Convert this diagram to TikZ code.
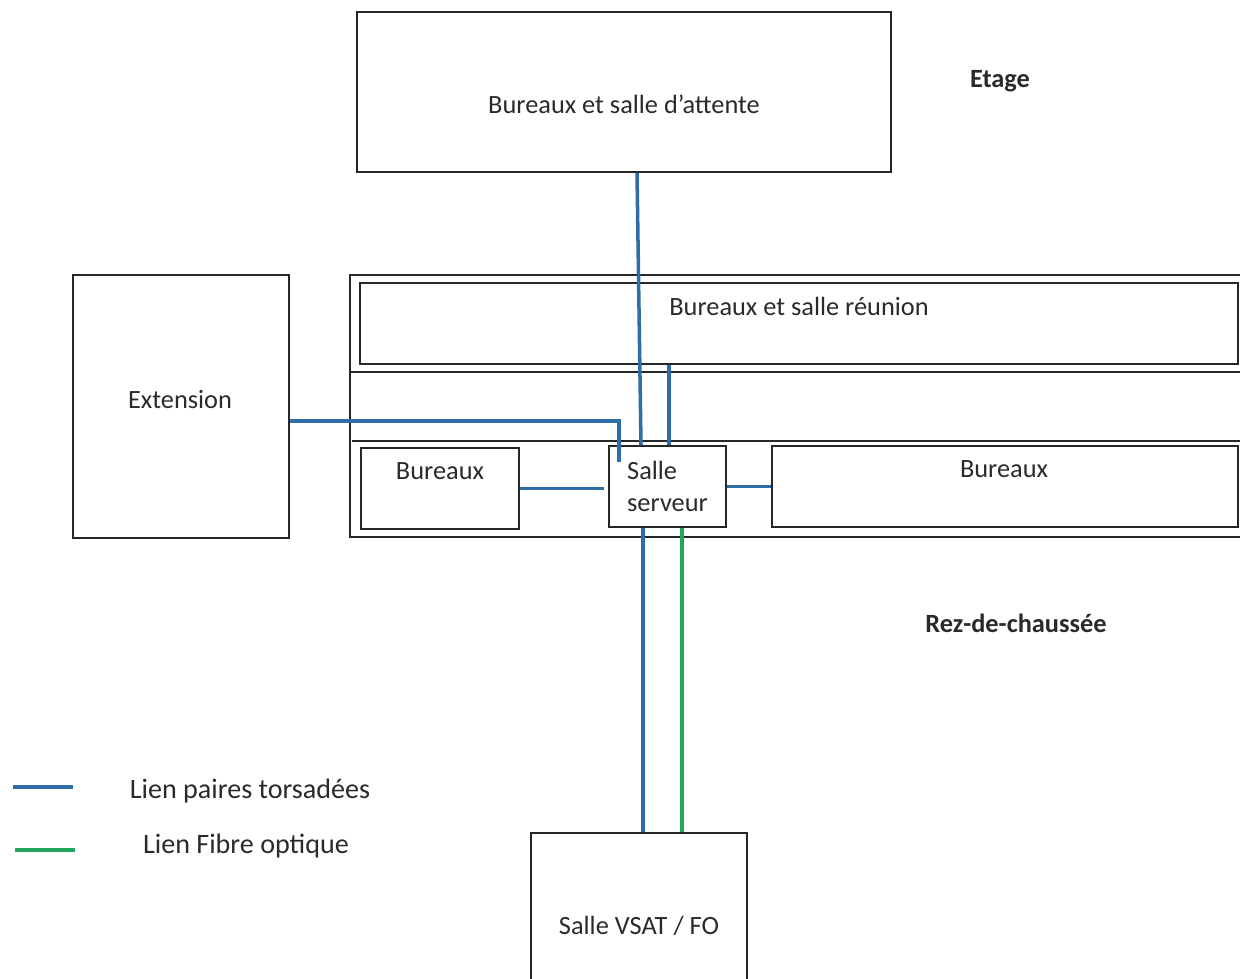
\documentclass[tikz,border=0pt]{standalone}
\usepackage{fontspec}
\setmainfont{Carlito}
\usetikzlibrary{positioning,calc}
\definecolor{torsade}{HTML}{2F6EA5}
\definecolor{fibre}{HTML}{22A65E}
\definecolor{texte}{HTML}{2A2A2A}
\tikzset{
	%Styles des salles et des liens
	salle/.style = {rectangle, draw=black!85, line width=1pt,
                           font=\fontsize{15}{18.7}\selectfont, text=texte,
                           text centered},
	titre/.style = {font=\fontsize{15}{18}\selectfont, text=texte},
	gras/.style = {font=\fontsize{15}{18}\selectfont\bfseries, text=texte},
	tp/.style = {draw=torsade, line width=2pt},
	fo/.style = {draw=fibre, line width=2pt}
}

\begin{document}
\begin{tikzpicture}[x=0.02cm, y=-0.02cm]
		\clip (0,0) rectangle (1240,978);
		% Etage
		\node (att) [salle, minimum width=10.68cm, minimum height=3.2cm] at (624,92) {};
		\node (attt) [titre] at (624,104) {Bureaux et salle d'attente};
		\node (etage) [gras] at (1000,81) {Etage};
		
		% Rez-de-chaussee
		\draw[line width=1.3pt, black!85] (1260,275) -- (350,275) -- (350,537) -- (1260,537);
		\draw[line width=1pt, black!85] (350,372) -- (1260,372);
		\draw[line width=1pt, black!85] (352,441) -- (1260,441);
		\node (reu) [salle, minimum width=17.56cm, minimum height=1.62cm] at (799,323.5) {};
		\node (reut) [titre] at (799,306) {Bureaux et salle réunion};
		\node (bg) [salle, minimum width=3.16cm, minimum height=1.62cm] at (440,488.5) {};
		\node (bgt) [titre] at (440,471) {Bureaux};
		\node (srv) [salle, align=left, minimum width=2.34cm, minimum height=1.62cm] at (667.5,486.5) {Salle\\serveur};
		\node (bd) [salle, minimum width=9.32cm, minimum height=1.62cm] at (1005,486.5) {};
		\node (bdt) [titre] at (1004,469) {Bureaux};
		\node (ext) [salle, minimum width=4.32cm, minimum height=5.26cm] at (181,406.5) {};
		\node (extt) [titre] at (180,400) {Extension};
		\node (rdc) [gras] at (1016,623) {Rez-de-chaussée};
		\node (vsat) [salle, minimum width=4.32cm, minimum height=3.72cm] at (639,926) {Salle VSAT / FO};
		
		\draw[tp] ([xshift=0.26cm]att.south) -- ([xshift=-0.53cm]srv.north);
		\draw[tp] ([xshift=0.03cm]srv.north) -- ([xshift=0.03cm]srv.north |- reu.south);
		\draw[tp] ([yshift=-0.29cm]ext.east) -| ([xshift=-0.97cm, yshift=-0.34cm]srv.north);
		\draw[tp] (bg.east) -- ([xshift=-0.08cm]srv.west |- bg.east);
		\draw[tp] (srv.east) -- (bd.west);
		\draw[tp] ([xshift=-0.49cm]srv.south) -- ([xshift=-0.49cm]srv.south |- vsat.north);
		\draw[fo] ([xshift=0.29cm]srv.south) -- ([xshift=0.29cm]srv.south |- vsat.north);
		
		% Legende
		\node (ltp) [titre, font=\fontsize{16}{19}\selectfont] at (250,791) {Lien paires torsadées};
		\node (lfo) [titre, font=\fontsize{16}{19}\selectfont] at (246,846) {Lien Fibre optique};
		\coordinate (ltpa) at (13,787);
		\coordinate (lfoa) at (15,850);
		\draw[tp] (ltpa) -- ++(60,0);
		\draw[fo] (lfoa) -- ++(60,0);
	\end{tikzpicture}
\end{document}
